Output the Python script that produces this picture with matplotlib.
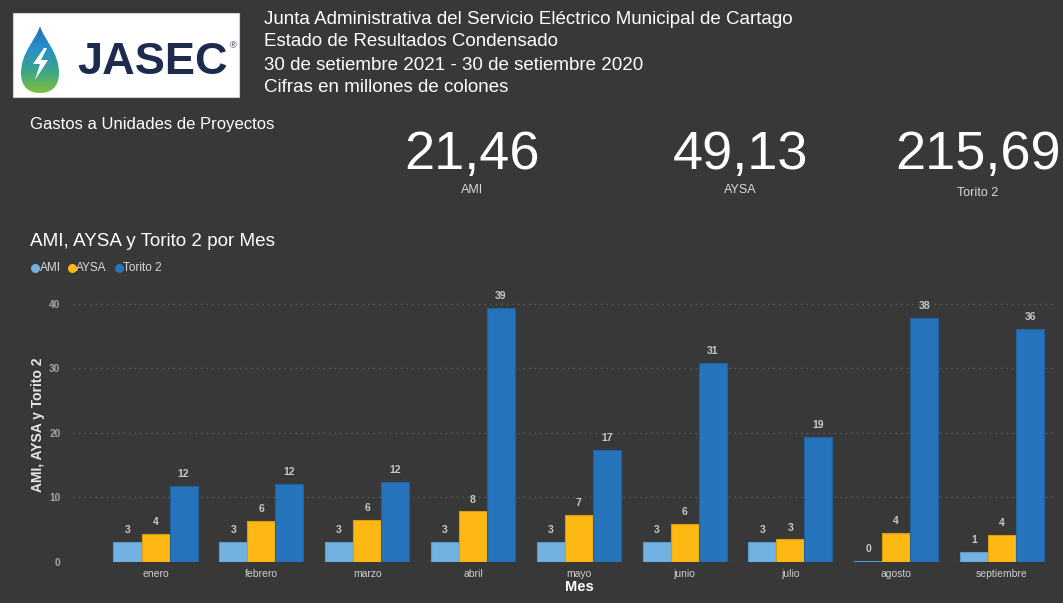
import numpy as np
import matplotlib
matplotlib.use("Agg")
import matplotlib.pyplot as plt
from matplotlib.path import Path
from matplotlib.patches import PathPatch, Rectangle, Polygon
from matplotlib.colors import LinearSegmentedColormap

# ---------------- data ----------------
meses = ["enero", "febrero", "marzo", "abril", "mayo", "junio", "julio", "agosto", "septiembre"]
ami = [3.0, 3.0, 3.0, 3.0, 3.0, 3.0, 3.0, 0.15, 1.45]
aysa = [4.35, 6.3, 6.45, 7.8, 7.3, 5.8, 3.45, 4.45, 4.2]
torito = [11.7, 12.1, 12.4, 39.4, 17.3, 30.9, 19.3, 37.9, 36.1]
series_names = ["AMI", "AYSA", "Torito 2"]
kpi_values = ["21,46", "49,13", "215,69"]
kpi_labels = ["AMI", "AYSA", "Torito 2"]
title_lines = [
    "Junta Administrativa del Servicio Eléctrico Municipal de Cartago",
    "Estado de Resultados Condensado",
    "30 de setiembre 2021 - 30 de setiembre 2020",
    "Cifras en millones de colones",
]
yticks = [0, 10, 20, 30, 40]

# ---------------- style ----------------
BG = "#383838"
C_AMI = "#71B2E3"
C_AYSA = "#FDB813"
C_TOR = "#2574BC"
E_AMI = "#5b9ccd"
E_AYSA = "#d99b0f"
E_TOR = "#1e62a2"
FONT = ["Liberation Sans", "DejaVu Sans"]
plt.rcParams["font.family"] = FONT

W, H = 1063, 603
fig = plt.figure(figsize=(W / 100, H / 100), dpi=100, facecolor=BG)

# overlay in pixel coordinates
ov = fig.add_axes([0, 0, 1, 1], zorder=0)
ov.set_xlim(0, W)
ov.set_ylim(H, 0)
ov.axis("off")
ov.set_facecolor(BG)

# ---- logo ----
ov.add_patch(Rectangle((13, 13), 226, 84, facecolor="white", edgecolor="#cfcfcf", lw=0.8))
cx, top, bot, hw = 40, 26, 93, 19
verts = [
    (cx, top),
    (cx + 4, top + 14), (cx + hw, top + 26), (cx + hw, bot - 20),
    (cx + hw, bot - 5), (cx + 10, bot), (cx, bot),
    (cx - 10, bot), (cx - hw, bot - 5), (cx - hw, bot - 20),
    (cx - hw, top + 26), (cx - 4, top + 14), (cx, top),
]
codes = [Path.MOVETO] + [Path.CURVE4] * 12
drop = PathPatch(Path(verts, codes), facecolor="none", edgecolor="none")
ov.add_patch(drop)
grad = np.linspace(0, 1, 100).reshape(-1, 1)
cmap = LinearSegmentedColormap.from_list("d", ["#1f6fb8", "#2a8fc9", "#3aa58a", "#7fbf3f"])
im = ov.imshow(np.hstack([grad, grad]), cmap=cmap, extent=(cx - hw, cx + hw, bot, top),
               aspect="auto", zorder=2)
im.set_clip_path(drop)
bolt = [(44, 48), (33, 64), (40, 64), (35, 80), (48, 60), (41, 60), (47, 48)]
ov.add_patch(Polygon(bolt, closed=True, facecolor="white", edgecolor="none", zorder=3))
ov.text(77, 62, "JASEC", fontsize=32.5, fontweight="bold", color="#1d2b4f", va="center", ha="left", zorder=3)
ov.text(230, 46, "®", fontsize=6.5, color="#1d2b4f", va="center", ha="left", zorder=3)

# ---- header text ----
for i, line in enumerate(title_lines):
    ov.text(264, 19 + i * 23, line, fontsize=13.5, color="white", va="center", ha="left")

ov.text(30, 125, "Gastos a Unidades de Proyectos", fontsize=12, color="white", va="center", ha="left")

kpi_x = [472, 740, 978]
kpi_label_y = [190, 190, 193]
for x, v, l, ly in zip(kpi_x, kpi_values, kpi_labels, kpi_label_y):
    ov.text(x, 155, v, fontsize=39, color="white", va="center", ha="center")
    ov.text(x, ly, l, fontsize=9, color="#d9d9d9", va="center", ha="center")

ov.text(30, 242, "AMI, AYSA y Torito 2 por Mes", fontsize=13.6, color="white", va="center", ha="left")

# legend
leg_items = [(35, 40, C_AMI, series_names[0]), (72, 76, C_AYSA, series_names[1]), (119, 123, C_TOR, series_names[2])]
for mx, tx, c, name in leg_items:
    ov.scatter([mx], [268], s=30, color=c, zorder=3)
    ov.text(tx, 268, name, fontsize=8.5, color="#d9d9d9", va="center", ha="left")

# ---------------- bar chart ----------------
y0_px, y40_px = 561.7, 304.0
ppu = (y0_px - y40_px) / 40.0
ymax = 41.5
ax_left, ax_right = 73, 1056
ax_h = ymax * ppu
ax = fig.add_axes([ax_left / W, (H - y0_px) / H, (ax_right - ax_left) / W, ax_h / H], zorder=1)
ax.set_facecolor("none")
ax.set_ylim(0, ymax)
ax.set_xlim(-0.78, 8.51)

x = np.arange(len(meses))
bw = 0.265
series = [(ami, C_AMI, E_AMI), (aysa, C_AYSA, E_AYSA), (torito, C_TOR, E_TOR)]
for k, (vals, c, e) in enumerate(series):
    xs = x + (k - 1) * bw
    ax.bar(xs, vals, width=bw, color=c, edgecolor=e, linewidth=0.8, zorder=3)
    for xi, v in zip(xs, vals):
        ax.annotate(f"{v:.0f}", (xi, v), xytext=(0, 5), textcoords="offset points",
                    ha="center", va="bottom", fontsize=7.5, fontweight="bold", color="#c9c9c9")

ax.set_yticks(yticks)
ax.set_yticklabels([str(t) for t in yticks])
ax.set_xticks(x)
ax.set_xticklabels(meses)
ax.tick_params(axis="y", length=0, pad=9, labelsize=7.3, labelcolor="#a6a6a6")
ax.tick_params(axis="x", length=0, pad=5, labelsize=7.5, labelcolor="#cfcfcf")
for lab in ax.get_yticklabels():
    lab.set_fontweight("bold")
ax.grid(axis="y", color="#5e5e5e", linestyle=(0, (1, 3)), linewidth=1.0, zorder=0)
ax.grid(axis="x", visible=False)
for s in ax.spines.values():
    s.set_visible(False)
ax.set_axisbelow(True)

ov.text(38, 425, "AMI, AYSA y Torito 2", rotation=90, fontsize=10, fontweight="bold",
        color="#e6e6e6", va="center", ha="center")
ov.text(579, 587, "Mes", fontsize=10.5, fontweight="bold", color="white", va="center", ha="center")

fig.savefig("out.png", dpi=100, facecolor=BG)
